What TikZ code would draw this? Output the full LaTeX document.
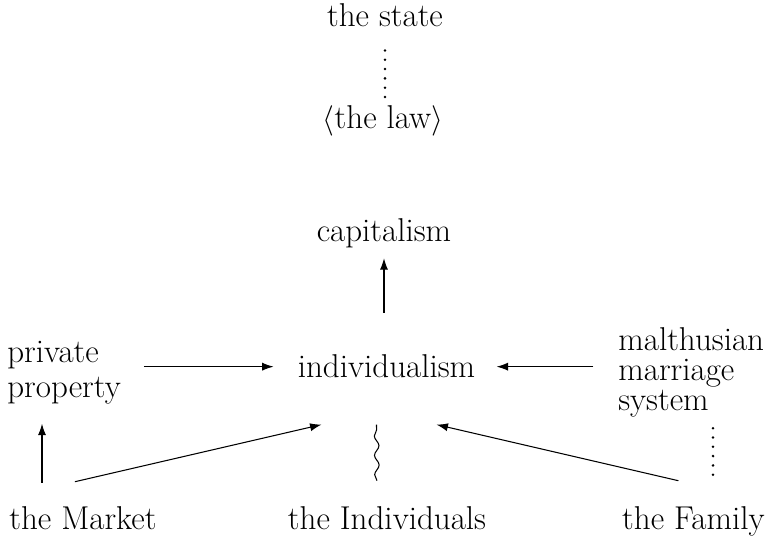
\documentclass[tikz,border=0pt]{standalone}
\usepackage{fontspec}
\usepackage{amsmath,amssymb}
\usetikzlibrary{arrows.meta,decorations.pathmorphing}

\begin{document}
\begin{tikzpicture}[x=0.02cm,y=-0.02cm,
  every node/.style={font=\fontsize{18.8}{22}\selectfont,inner sep=0pt},
  term/.style={align=left},
  cause/.style={-{Latex[length=6.5pt,width=4.6pt]},line width=.6pt},
  tie/.style={line width=1.6pt,line cap=round,dash pattern=on 0pt off 5.3pt},
  drift/.style={line width=.6pt,decorate,
    decoration={snake,segment length=11pt,amplitude=1.3pt}}]
  \useasboundingbox (0,0) rectangle (768,536);
  \node[anchor=base] (state) at (385,27) {the state};
  \node[anchor=base] (law) at (383,129) {$\langle$the law$\rangle$};
  \node[anchor=base] (cap) at (384,242) {capitalism};
  \node[anchor=base] (indiv) at (386.5,378) {individualism};
  \node[term,anchor=north west,font=\fontsize{18.8}{19.8}\selectfont] (priv) at (7,341) {private\\property};
  \node[term,anchor=north west,font=\fontsize{18.8}{17}\selectfont] (malth) at (618,327) {malthusian\\marriage\\system};
  \node[anchor=base west] (market) at (9,530) {the Market};
  \node[anchor=base] (indivs) at (387,530) {the Individuals};
  \node[anchor=base east] (family) at (765,530) {the Family};
  \draw[tie,shorten <=13pt,shorten >=4pt] (state.south) -- (state.south |- law.north);
  \draw[cause,shorten <=24pt,shorten >=5.4pt] (cap.south |- indiv.north) -- (cap.south);
  \draw[cause,shorten <=13pt,shorten >=13.6pt] (priv.east |- indiv.west) -- (indiv.west);
  \draw[cause,shorten <=14pt,shorten >=12pt] (malth.west |- indiv.east) -- (indiv.east);
  % market -> private property
  \draw[cause] ([shift={(33,-24)}]market.north west) -- ([shift={(33,-83)}]market.north west);
  \draw[cause] ([shift={(-8,-25)}]market.north) -- ([shift={(24,46)}]indiv.south west);
  \draw[cause] ([shift={(-15,-26)}]family.north) -- ([shift={(-39,46)}]indiv.south east);
  \draw[drift] ([shift={(-10,-26)}]indivs.north) -- ([shift={(-10,46)}]indiv.south);
  % family ... malthusian system
  \draw[tie] ([shift={(-52,-32)}]family.north east) -- ([shift={(-52,-79)}]family.north east);
\end{tikzpicture}
\end{document}
